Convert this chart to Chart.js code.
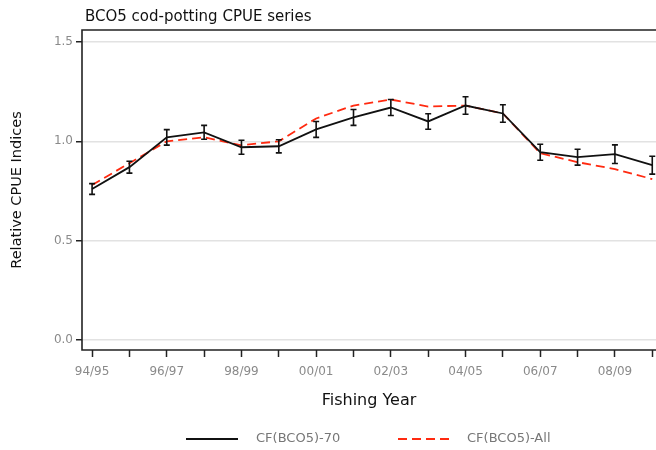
<!DOCTYPE html>
<html>
<head>
<meta charset="utf-8">
<script src="https://cdn.jsdelivr.net/npm/chart.js@4.4.0/dist/chart.umd.min.js"></script>
<style>
  html, body { margin: 0; padding: 0; background: #fff; }
  #wrap { width: 656px; height: 450px; }
</style>
</head>
<body>
<div id="wrap"><canvas id="cpueChart"></canvas></div>
<script>
// fishing years along the x axis
const yearLabels = ['94/95', '95/96', '96/97', '97/98', '98/99', '99/00', '00/01', '01/02',
  '02/03', '03/04', '04/05', '05/06', '06/07', '07/08', '08/09', '09/10'];

// CF(BCO5)-70 index and its error bar half-widths
const cpue70 = [0.76, 0.87, 1.02, 1.045, 0.97, 0.975, 1.06, 1.12,
  1.17, 1.10, 1.18, 1.14, 0.945, 0.92, 0.935, 0.88];
const cpue70Err = [0.027, 0.03, 0.039, 0.035, 0.035, 0.033, 0.04, 0.04,
  0.04, 0.039, 0.044, 0.044, 0.04, 0.04, 0.047, 0.045];

// CF(BCO5)-All index
const cpueAll = [0.78, 0.89, 1.0, 1.02, 0.98, 1.0, 1.115, 1.18,
  1.21, 1.175, 1.18, 1.14, 0.94, 0.895, 0.86, 0.81];

const yTickValues = [0, 0.5, 1.0, 1.5];

const FONT = "'DejaVu Sans', Verdana, sans-serif";

// draws the vertical error bars with caps for the first series
const errorBars = {
  id: 'errorBars',
  afterDatasetsDraw(chart) {
    const ctx = chart.ctx;
    const xs = chart.scales.x;
    const ys = chart.scales.y;
    ctx.save();
    ctx.strokeStyle = '#111';
    ctx.lineWidth = 1.6;
    cpue70.forEach((v, i) => {
      const x = xs.getPixelForValue(i);
      const yTop = ys.getPixelForValue(v + cpue70Err[i]);
      const yBot = ys.getPixelForValue(v - cpue70Err[i]);
      ctx.beginPath();
      ctx.moveTo(x, yTop); ctx.lineTo(x, yBot);
      ctx.moveTo(x - 3, yTop); ctx.lineTo(x + 3, yTop);
      ctx.moveTo(x - 3, yBot); ctx.lineTo(x + 3, yBot);
      ctx.stroke();
    });
    ctx.restore();
  }
};

// frame, chart title and the legend at the bottom
const decorations = {
  id: 'decorations',
  afterDraw(chart) {
    const ctx = chart.ctx;
    const a = chart.chartArea;
    ctx.save();
    ctx.strokeStyle = '#222';
    ctx.lineWidth = 1.6;
    ctx.beginPath();
    ctx.moveTo(chart.width, a.top);
    ctx.lineTo(a.left, a.top);
    ctx.lineTo(a.left, a.bottom);
    ctx.lineTo(chart.width, a.bottom);
    ctx.stroke();

    ctx.fillStyle = '#111';
    ctx.font = '15px ' + FONT;
    ctx.textBaseline = 'middle';
    ctx.textAlign = 'left';
    ctx.fillText('BCO5 cod-potting CPUE series', a.left + 3, 17);

    // legend
    const ly = 439;
    ctx.lineWidth = 1.8;
    ctx.strokeStyle = '#111';
    ctx.beginPath();
    ctx.moveTo(186, ly); ctx.lineTo(238, ly);
    ctx.stroke();
    ctx.strokeStyle = '#ff2a10';
    ctx.setLineDash([9, 5]);
    ctx.beginPath();
    ctx.moveTo(398, ly); ctx.lineTo(450, ly);
    ctx.stroke();
    ctx.setLineDash([]);
    ctx.fillStyle = '#777';
    ctx.font = '13px ' + FONT;
    ctx.fillText('CF(BCO5)-70', 256, ly);
    ctx.fillText('CF(BCO5)-All', 467, ly);
    ctx.restore();
  }
};

new Chart(document.getElementById('cpueChart'), {
  type: 'line',
  data: {
    datasets: [
      {
        label: 'CF(BCO5)-70',
        data: cpue70.map((v, i) => ({ x: i, y: v })),
        borderColor: '#111',
        borderWidth: 1.8,
        pointRadius: 0,
        tension: 0,
        fill: false
      },
      {
        label: 'CF(BCO5)-All',
        data: cpueAll.map((v, i) => ({ x: i, y: v })),
        borderColor: '#ff2a10',
        borderWidth: 1.8,
        borderDash: [9, 5],
        pointRadius: 0,
        tension: 0,
        fill: false
      }
    ]
  },
  options: {
    responsive: true,
    maintainAspectRatio: false,
    animation: false,
    clip: false,
    layout: { padding: { top: 30, left: 0, right: 0, bottom: 30 } },
    plugins: {
      legend: { display: false },
      title: { display: false },
      tooltip: { enabled: false }
    },
    scales: {
      x: {
        type: 'linear',
        min: -0.27,
        max: 15.1,
        afterFit(scale) {
          scale.height = 70;
          scale.paddingLeft = 0;
          scale.paddingRight = 0;
        },
        afterBuildTicks(scale) {
          scale.ticks = yearLabels.map((_, i) => ({ value: i }));
        },
        ticks: {
          autoSkip: false,
          maxRotation: 0,
          padding: 8,
          color: '#8a8a8a',
          font: { family: FONT, size: 12 },
          callback: (v) => (v % 2 === 0 ? yearLabels[v] : '')
        },
        grid: {
          drawOnChartArea: false,
          drawTicks: true,
          tickLength: 7,
          tickColor: '#222',
          tickWidth: 1.5
        },
        border: { display: false },
        title: {
          display: true,
          text: 'Fishing Year',
          color: '#111',
          font: { family: FONT, size: 16 },
          padding: { top: 0, bottom: 10 }
        }
      },
      y: {
        min: -0.05,
        max: 1.56,
        afterFit(scale) {
          scale.width = 82;
          scale.paddingTop = 0;
          scale.paddingBottom = 0;
        },
        afterBuildTicks(scale) {
          scale.ticks = yTickValues.map(v => ({ value: v }));
        },
        ticks: {
          padding: 3,
          color: '#8a8a8a',
          font: { family: FONT, size: 12 },
          callback: (v) => v.toFixed(1)
        },
        grid: {
          color: '#e2e2e2',
          lineWidth: 1.5,
          drawTicks: true,
          tickLength: 6,
          tickColor: '#222',
          tickWidth: 1.5
        },
        border: { display: false },
        title: {
          display: true,
          text: 'Relative CPUE Indices',
          color: '#111',
          font: { family: FONT, size: 14.5 },
          padding: { top: 9, bottom: 0 }
        }
      }
    }
  },
  plugins: [errorBars, decorations]
});
</script>
</body>
</html>
